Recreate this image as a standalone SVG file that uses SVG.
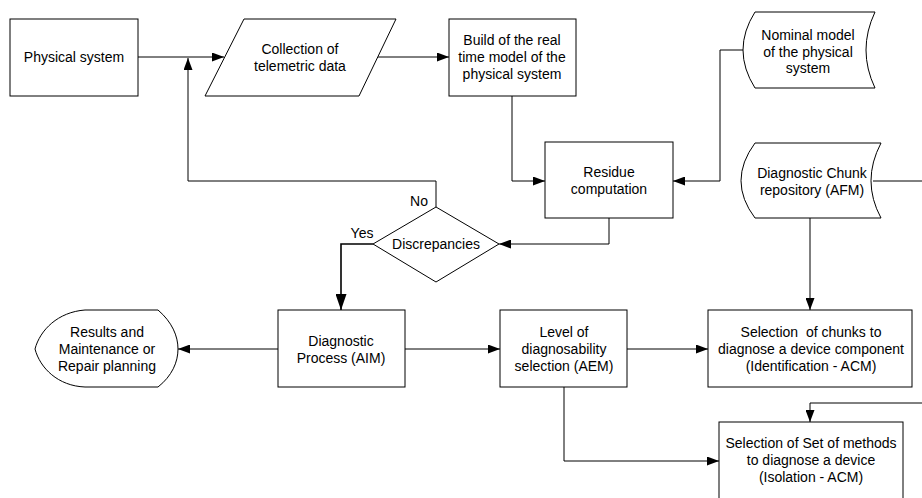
<svg xmlns="http://www.w3.org/2000/svg" width="922" height="498" viewBox="0 0 922 498">
<style>
.s{fill:#fff;stroke:#000;stroke-width:1}
.c{fill:none;stroke:#000;stroke-width:1}
.t{font-family:"Liberation Sans",Arial,sans-serif;font-size:14px;fill:#000;text-anchor:middle;white-space:pre}
</style>
<defs>
<marker id="a" markerWidth="12" markerHeight="9" refX="12" refY="4.5" orient="auto" markerUnits="userSpaceOnUse"><path d="M0,0 L12,4.5 L0,9 Z" fill="#000"/></marker>
<marker id="b" markerWidth="16" markerHeight="11" refX="16" refY="5.5" orient="auto" markerUnits="userSpaceOnUse"><path d="M0,0 L16,5.5 L0,11 Z" fill="#000"/></marker>
</defs>
<rect width="922" height="498" fill="#fff"/>
<g id="connectors">
<path class="c" d="M138,57 H224" marker-end="url(#a)"/>
<path class="c" d="M378,57 H449" marker-end="url(#a)"/>
<path class="c" d="M436,207 V181 H188 V58" marker-end="url(#a)"/>
<path class="c" d="M512,96 V181 H545" marker-end="url(#a)"/>
<path class="c" d="M743,50 H720 V181 H673" marker-end="url(#a)"/>
<path class="c" d="M609,218 V244 H499" marker-end="url(#a)"/>
<path class="c" d="M810,218 V310" marker-end="url(#a)"/>
<path class="c" d="M873,181 H922"/>
<path class="c" style="stroke-width:1.6" d="M373,244 H341 V310" marker-end="url(#b)"/>
<path class="c" d="M278,349 H178" marker-end="url(#a)"/>
<path class="c" d="M405,349 H500" marker-end="url(#a)"/>
<path class="c" d="M627,349 H708" marker-end="url(#a)"/>
<path class="c" d="M564,387 V461 H719" marker-end="url(#a)"/>
<path class="c" d="M922,403 H810 V422" marker-end="url(#a)"/>
</g>
<g id="physical">
<rect class="s" x="10" y="19" width="128" height="77"/>
<text class="t" x="74" y="62">Physical system</text>
</g>
<g id="collection">
<path class="s" d="M244,19 H396 L359,96 H205 Z"/>
<text class="t" x="300" y="54">Collection of</text>
<text class="t" x="300" y="71">telemetric data</text>
</g>
<g id="build">
<rect class="s" x="449" y="19" width="127" height="77"/>
<text class="t" x="512" y="45">Build of the real</text>
<text class="t" x="512" y="62">time model of the</text>
<text class="t" x="512" y="79">physical system</text>
</g>
<g id="nominal">
<path class="s" d="M755,12 H875 Q857,50 875,88 H755 Q731,50 755,12 Z"/>
<text class="t" x="808" y="40">Nominal model</text>
<text class="t" x="808" y="57">of the physical</text>
<text class="t" x="808" y="73">system</text>
</g>
<g id="residue">
<rect class="s" x="545" y="142" width="128" height="76"/>
<text class="t" x="609" y="177">Residue</text>
<text class="t" x="609" y="194">computation</text>
</g>
<g id="chunkrepo">
<path class="s" d="M755,143 H881 Q861,181 881,218 H755 Q727,181 755,143 Z"/>
<text class="t" x="812" y="178">Diagnostic Chunk</text>
<text class="t" x="812" y="195">repository (AFM)</text>
</g>
<g id="discrepancies">
<path class="s" d="M436,207 L499,244 L436,282 L373,244 Z"/>
<text class="t" x="436" y="249">Discrepancies</text>
<text class="t" x="419" y="206">No</text>
<text class="t" x="362" y="238">Yes</text>
</g>
<g id="results">
<path class="s" d="M158,310 H85 C58,312 40,330 35,349 C40,368 58,386 85,387 H158 C172,376 178,362 178,349 C178,336 172,322 158,310 Z"/>
<text class="t" x="107" y="337">Results and</text>
<text class="t" x="107" y="354">Maintenance or</text>
<text class="t" x="107" y="371">Repair planning</text>
</g>
<g id="diagnostic">
<rect class="s" x="278" y="310" width="127" height="77"/>
<text class="t" x="341" y="346">Diagnostic</text>
<text class="t" x="341" y="363">Process (AIM)</text>
</g>
<g id="level">
<rect class="s" x="500" y="310" width="127" height="77"/>
<text class="t" x="564" y="337">Level of</text>
<text class="t" x="564" y="354">diagnosability</text>
<text class="t" x="564" y="371">selection (AEM)</text>
</g>
<g id="selchunks">
<rect class="s" x="708" y="310" width="204" height="77"/>
<text class="t" x="811" y="337">Selection  of chunks to</text>
<text class="t" x="811" y="354">diagnose a device component</text>
<text class="t" x="811" y="371">(Identification - ACM)</text>
</g>
<g id="selset">
<rect class="s" x="719" y="422" width="184" height="90"/>
<text class="t" x="811" y="448">Selection of Set of methods</text>
<text class="t" x="811" y="465">to diagnose a device</text>
<text class="t" x="811" y="482">(Isolation - ACM)</text>
</g>
</svg>
